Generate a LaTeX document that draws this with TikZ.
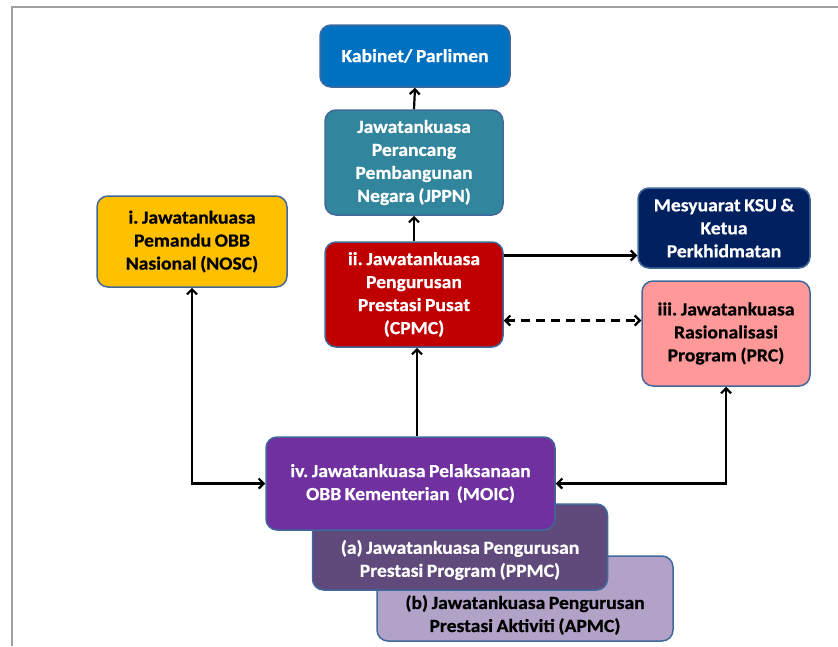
\documentclass[tikz,border=0pt]{standalone}
\usepackage{fontspec}
\setmainfont{Carlito}[FakeStretch=1.06, WordSpace=0.8, BoldFeatures={FakeBold=0.6}]
\frenchspacing
\usetikzlibrary{arrows.meta}
\definecolor{cKab}{HTML}{0070C0}
\definecolor{cJppn}{HTML}{31859C}
\definecolor{cNosc}{HTML}{FFC000}
\definecolor{cCpmc}{HTML}{C00000}
\definecolor{cMesy}{HTML}{002060}
\definecolor{cPrc}{HTML}{FF9999}
\definecolor{cMoic}{HTML}{7030A0}
\definecolor{cPpmc}{HTML}{604A7B}
\definecolor{cApmc}{HTML}{B3A2C7}
\definecolor{cBorder}{HTML}{41689A}
\definecolor{cFrame}{HTML}{A0A0A0}
\tikzset{
  box/.style={draw=cBorder, line width=1.5pt, rounded corners=11pt, align=center,
    inner sep=2pt, font=\fontsize{18.5}{23}\selectfont\bfseries},
  wtext/.style={text=white},
  btext/.style={text=black},
  conn/.style={line width=2.2pt, -{Straight Barb[length=5pt,width=10pt]}},
  conn2/.style={line width=2.2pt, {Straight Barb[length=5pt,width=10pt]}-{Straight Barb[length=5pt,width=10pt]}},
  lbl/.style={align=center, font=\fontsize{18.5}{23}\selectfont\bfseries, inner sep=0pt}
}
\begin{document}
\begin{tikzpicture}[x=1pt,y=-1pt]
\useasboundingbox (0,0) rectangle (838,646);
% frame
\coordinate (ftl) at (12,7);
\coordinate (ftr) at (838,7);
\coordinate (fbl) at (12,646);
\draw[cFrame, line width=2.5pt] (fbl) -- (ftl) -- (ftr);

% boxes
\node[box, fill=cKab, wtext, minimum width=190pt, minimum height=62pt] (kab) at (415,56) {Kabinet/ Parlimen};
\node[box, fill=cJppn, wtext, minimum width=178pt, minimum height=105pt] (jppn) at (414,162.5) {Jawatankuasa\\Perancang\\Pembangunan\\Negara (JPPN)};
\node[box, fill=cNosc, btext, minimum width=190pt, minimum height=91pt] (nosc) at (192,241.5) {i. Jawatankuasa\\Pemandu OBB\\Nasional (NOSC)};
\node[box, fill=cCpmc, wtext, minimum width=178pt, minimum height=105pt] (cpmc) at (414,294.5) {ii. Jawatankuasa\\Pengurusan\\Prestasi Pusat\\(CPMC)};
\node[box, fill=cMesy, wtext, minimum width=172pt, minimum height=80pt] (mesy) at (724,228) {Mesyuarat KSU \&\\Ketua\\Perkhidmatan};
\node[box, fill=cPrc, btext, minimum width=168pt, minimum height=105pt] (prc) at (726,333.5) {iii. Jawatankuasa\\Rasionalisasi\\Program (PRC)};

\node[box, fill=cApmc, minimum width=296pt, minimum height=85pt] (apmc) at (525,598.5) {};
\node[lbl, btext] (apmct) at (525,615) {(b) Jawatankuasa Pengurusan\\Prestasi Aktiviti (APMC)};
\node[box, fill=cPpmc, minimum width=295pt, minimum height=86pt] (ppmc) at (460,547) {};
\node[lbl, wtext] (ppmct) at (460,560) {(a) Jawatankuasa Pengurusan\\Prestasi Program (PPMC)};
\node[box, fill=cMoic, wtext, minimum width=289pt, minimum height=93pt] (moic) at (410.5,483.5) {iv. Jawatankuasa Pelaksanaan\\OBB Kementerian~ (MOIC)};

% connectors
\draw[conn] (jppn.north) -- (kab.south);
\draw[conn] (cpmc.north) -- (jppn.south);
\coordinate (cpmcA) at ([yshift=39pt]cpmc.east);
\draw[conn] (cpmcA) -- (mesy.west |- cpmcA);
\coordinate (cpmcB) at ([yshift=-26pt]cpmc.east);
\draw[conn2, dash pattern=on 9pt off 6pt] (cpmcB) -- (prc.west |- cpmcB);
\coordinate (moicT) at ([xshift=3pt]moic.north -| cpmc.south);
\draw[conn] (moicT) -- (moicT |- cpmc.south);
\draw[conn2] (nosc.south) |- (moic.west);
\draw[conn2] (prc.south) |- (moic.east);
\end{tikzpicture}
\end{document}
